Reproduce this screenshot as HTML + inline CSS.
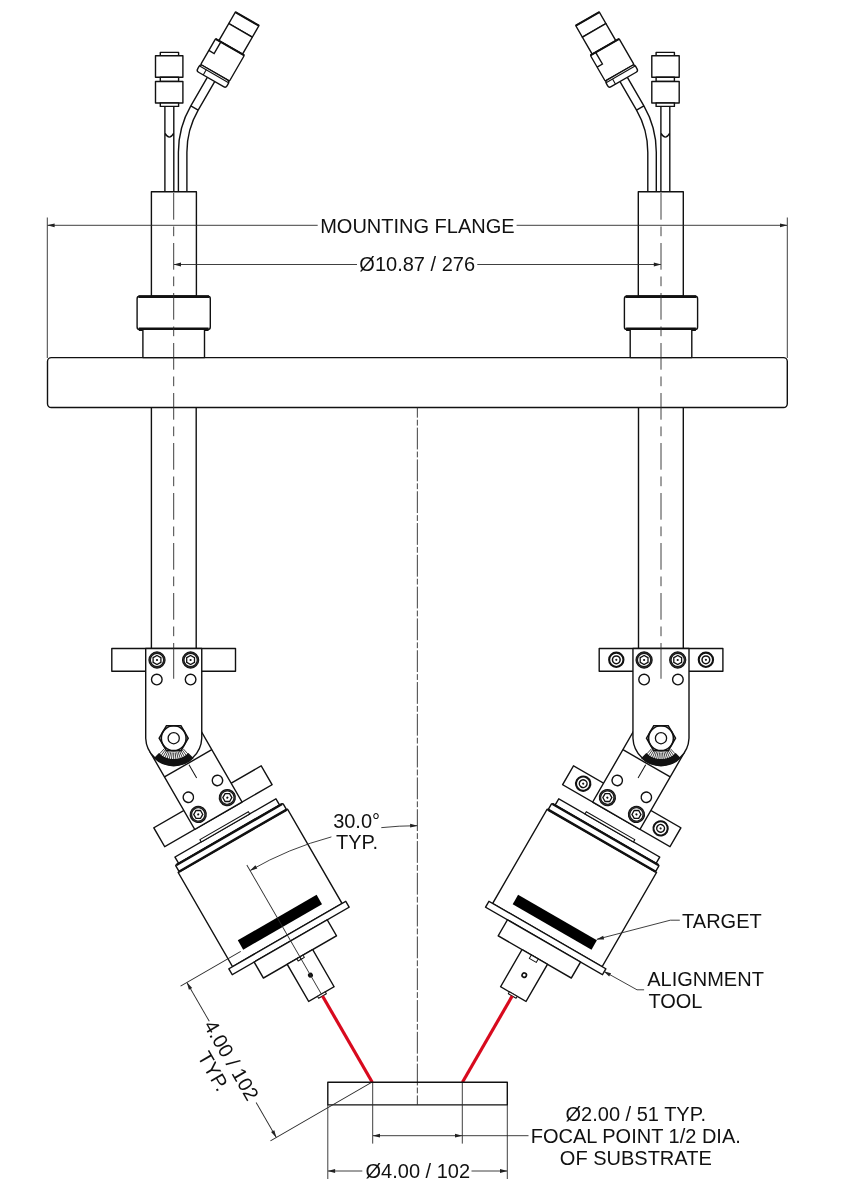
<!DOCTYPE html>
<html><head><meta charset="utf-8"><style>
html,body{margin:0;padding:0;background:#fff;}
svg{display:block;transform:translateZ(0);}
text{font-family:"Liberation Sans",sans-serif;fill:#111;}
.o{fill:#fff;stroke:#111;stroke-width:1.4;stroke-linejoin:round;}
.n{fill:none;stroke:#111;stroke-width:1.4;}
.t{fill:none;stroke:#2a2a2a;stroke-width:0.9;}
.k{fill:none;stroke:#111;stroke-width:2.6;}
.c{fill:none;stroke:#2a2a2a;stroke-width:0.9;stroke-dasharray:24 2.5 3.5 2.5;}
.a{fill:#222;stroke:none;}
.red{fill:none;stroke:#d80a1e;stroke-width:3.2;}
</style></head><body>
<svg width="842" height="1200" viewBox="0 0 842 1200">
<defs>
<marker id="ar" viewBox="-8 -3 9 6" refX="0" refY="0" markerWidth="9" markerHeight="6" markerUnits="userSpaceOnUse" orient="auto-start-reverse"><path d="M0.5,0L-7,-1.9L-7,1.9Z" fill="#222"/></marker>
<g id="scr">
  <circle r="7.35" fill="#fff" stroke="#111" stroke-width="2.6"/>
  <circle r="7.3" fill="none" stroke="#555" stroke-width="0.4"/>
  <polygon points="0,-4.5 3.9,-2.25 3.9,2.25 0,4.5 -3.9,2.25 -3.9,-2.25" fill="none" stroke="#111" stroke-width="1.3"/>
  <circle r="1.1" fill="#111"/>
</g>
<g id="scr2">
  <circle r="7.15" fill="#fff" stroke="#111" stroke-width="2.1"/>
  <circle r="3.85" fill="none" stroke="#111" stroke-width="1.5"/>
  <circle r="1.1" fill="#222"/>
</g>
<g id="L">
  <!-- small vertical connector -->
  <rect class="o" x="160.3" y="52.4" width="18.3" height="3.3"/>
  <rect class="o" x="155.5" y="55.7" width="27.4" height="21.6"/>
  <rect class="o" x="160.3" y="77.3" width="18.3" height="4.2"/>
  <rect class="o" x="155.5" y="81.5" width="27.4" height="21.5"/>
  <rect class="o" x="160.3" y="103" width="18.3" height="3.4"/>
  <path class="n" d="M164.9,106.4V191.8M173.8,106.4V191.8M164.9,133.2Q169.35,141 173.8,133.2"/>
  <!-- bent tube -->
  <path class="n" d="M207.31,77.3L190.81,105.88A92.65,92.65 0 0 0 178.4,152.2V191.8M214.67,81.55L198.17,110.12A84.15,84.15 0 0 0 186.9,152.2V191.8M190.81,105.88L198.17,110.12"/>
  <!-- angled connector -->
  <g transform="translate(247.15,18.9) rotate(30)">
    <rect class="o" x="-13.6" y="0" width="27.2" height="13.2"/>
    <line class="k" x1="-13.6" y1="0" x2="13.6" y2="0" style="stroke-width:2"/>
    <rect class="o" x="-13.6" y="13.2" width="27.2" height="19.8"/>
    <rect class="o" x="-17.4" y="33" width="33.2" height="29.7" rx="1"/>
    <line class="k" x1="-17.4" y1="33" x2="15.8" y2="33" style="stroke-width:2"/>
    <rect class="o" x="-17.9" y="62.7" width="33.9" height="7.8" rx="2.5"/>
    <path class="n" d="M-17.6,64.5H15.8" style="stroke-width:1.1"/>
  </g>
  <!-- mount body, nut, neck -->
  <rect class="o" x="151.4" y="191.8" width="45" height="104.4"/>
  <rect class="o" x="137.1" y="296.2" width="73.2" height="33.2" rx="2.5"/>
  <path class="k" d="M138.5,296.6H209" style="stroke-width:2.6"/><path class="k" d="M138.8,329.3H208.6" style="stroke-width:3.4"/>
  <rect class="o" x="142.9" y="329.4" width="61.6" height="28.2"/>
  <!-- lower tube -->
  <path class="n" d="M151.4,407.5V648.5M196.2,407.5V648.5"/>
  <!-- clamp bar -->
  <rect class="o" x="111.8" y="648.5" width="123.7" height="22.8"/>
  <!-- rotated bracket + head -->
  <g transform="translate(173.85,738.55) rotate(-30)">
    <rect class="o" x="-62" y="67.3" width="124" height="21.8"/>
    <rect class="o" x="-27.3" y="0" width="54.6" height="89.1"/>
    <line class="n" x1="-27.3" y1="28.6" x2="27.3" y2="28.6"/>
    <line class="n" x1="0" y1="30.3" x2="0" y2="45.6" style="stroke-width:1"/>
    <circle class="o" cx="-16.8" cy="58.1" r="5.2"/>
    <circle class="o" cx="16.8" cy="58.1" r="5.2"/>
    <use href="#scr" x="-16.8" y="77.9"/>
    <use href="#scr" x="16.8" y="77.9"/>
    <!-- head -->
    <rect class="o" x="-58.3" y="103.2" width="116.6" height="7.4"/>
    <rect class="o" x="-28" y="100.6" width="56" height="2.6" style="stroke-width:1.1"/>
    <rect class="o" x="-62" y="110.6" width="124" height="7.5" rx="1"/>
    <rect class="o" x="-63.2" y="118.1" width="126.4" height="108.8"/>
    <path class="k" d="M-61,110.8H61M-62.2,117.9H62.2" style="stroke-width:2.5"/>
    <rect x="-45.5" y="206.7" width="91" height="10.8" fill="#000"/>
    <rect class="o" x="-67.5" y="226.9" width="135" height="6.8"/>
    <rect class="o" x="-42.2" y="233.7" width="84.4" height="18.5"/>
    <rect class="o" x="-14.7" y="252.2" width="29.4" height="42.9"/>
    <rect class="o" x="-4.5" y="295.1" width="9" height="2.2" style="stroke-width:1"/>
    <line class="red" x1="0" y1="297.3" x2="0" y2="396.8"/>
  </g>
  <!-- arm plate -->
  <path class="o" d="M145.7,648.5V738.2A28.05,28.05 0 0 0 201.75,738.2V648.5Z"/>
  <use href="#scr" x="157" y="660"/>
  <use href="#scr" x="190.6" y="660"/>
  <circle class="o" cx="156.8" cy="679.6" r="5.3"/>
  <circle class="o" cx="190.6" cy="679.6" r="5.3"/>
  <!-- knurl arc -->
  <g transform="translate(173.7,738.2)">
        <path d="M-19.94,19.94A28.2,28.2 0 0 0 19.94,19.94L14.71,14.71A20.8,20.8 0 0 1 -14.71,14.71Z" fill="#111"/>
    <path d="M-9.57,10.63L-14.19,15.75M-8.41,11.57L-12.46,17.15M-7.15,12.38L-10.60,18.36M-5.82,13.06L-8.62,19.37M-4.42,13.60L-6.55,20.16M-2.97,13.99L-4.41,20.74M-1.49,14.22L-2.22,21.08M0.00,14.30L0.00,21.20M1.49,14.22L2.22,21.08M2.97,13.99L4.41,20.74M4.42,13.60L6.55,20.16M5.82,13.06L8.62,19.37M7.15,12.38L10.60,18.36M8.41,11.57L12.46,17.15M9.57,10.63L14.19,15.75" fill="none" stroke="#000" stroke-width="0.75"/>
    <polygon points="-14.5,0 -7.25,-12.56 7.25,-12.56 14.5,0 7.25,12.56 -7.25,12.56" fill="#fff" stroke="#111" stroke-width="1.5"/>
    <circle r="12.4" fill="none" stroke="#111" stroke-width="1.6"/>
    <circle r="5.6" fill="none" stroke="#111" stroke-width="1.3"/>
  </g>
  <!-- center line of mount -->
  <line class="t" x1="173.7" y1="193" x2="173.7" y2="643" style="stroke-dasharray:26.7 6.8 9.7 6.8"/><line class="t" x1="173.7" y1="643" x2="173.7" y2="678.75"/>
</g>
</defs>

<!-- flange -->
<rect class="o" x="47.5" y="357.6" width="739.8" height="49.9" rx="3.8"/>
<use href="#L"/>
<use href="#L" transform="translate(834.7,0) scale(-1,1)"/>
<!-- connector tabs (not mirrored) -->
<g transform="translate(247.15,18.9) rotate(30)">
  <path class="n" d="M-17.4,46.5H-11.3V33"/>
  <path class="n" d="M-10,64.5V70.5" style="stroke-width:1.1"/>
</g>
<g transform="translate(587.55,18.9) rotate(-30)">
  <path class="n" d="M-15.8,46.5H-9.7V33"/>
  <path class="n" d="M-8.4,64.5V70.5" style="stroke-width:1.1"/>
</g>
<!-- right-only extra screws -->
<use href="#scr2" x="616.3" y="659.8"/>
<use href="#scr2" x="705.9" y="659.8"/>
<g transform="translate(834.7,0) scale(-1,1) translate(173.85,738.55) rotate(-30)">
  <use href="#scr2" x="-44.7" y="77.9"/>
  <use href="#scr2" x="44.7" y="77.9"/>
  <rect class="o" x="-4" y="252.2" width="8" height="4" style="stroke-width:1"/>
  <circle cx="0" cy="273.2" r="2.2" fill="none" stroke="#111" stroke-width="1.6"/>
</g>
<!-- center line -->
<line class="t" x1="417.35" y1="407.5" x2="417.35" y2="1104.5" style="stroke-dasharray:21.8 2.1 5.8 2.1;stroke-dashoffset:11.65"/>
<!-- substrate -->
<rect class="o" x="327.8" y="1082.2" width="179.5" height="22.7" style="fill:none"/>

<!-- MOUNTING FLANGE dim -->
<path class="t" d="M47.3,217.5V358M787.3,217.5V358"/>
<path class="t" d="M317.7,225.3H47.6" marker-end="url(#ar)"/>
<path class="t" d="M516.6,225.3H787" marker-end="url(#ar)"/>
<text x="417.4" y="232.8" font-size="20" text-anchor="middle">MOUNTING FLANGE</text>
<!-- 10.87 dim -->
<path class="t" d="M357,264.5H174" marker-end="url(#ar)"/>
<path class="t" d="M477.3,264.5H660.8" marker-end="url(#ar)"/>
<text x="417.2" y="271.3" font-size="20" text-anchor="middle">Ø10.87 / 276</text>

<!-- 30 deg -->
<path class="t" d="M381.3,827.65A334.5,334.5 0 0 1 417.1,825.7" marker-end="url(#ar)"/>
<path class="t" d="M331.4,836.9A334.5,334.5 0 0 0 250.3,870.4" marker-end="url(#ar)"/>
<text x="356.6" y="828" font-size="20" text-anchor="middle">30.0°</text>
<text x="357" y="849.4" font-size="20" text-anchor="middle">TYP.</text>

<!-- 4.00 / 102 TYP (left head frame) -->
<g transform="translate(173.85,738.55) rotate(-30)">
  <rect class="o" x="-3.6" y="252.2" width="3.6" height="2.6" style="stroke-width:1"/>
  <rect class="o" x="0" y="252.2" width="3.6" height="2.6" style="stroke-width:1"/>
  <circle cx="0" cy="273.2" r="2.5" fill="#111"/>
  <line class="t" x1="0" y1="146" x2="0" y2="295.1"/>
  <path class="t" d="M-48.5,217.8H-118M-1.2,396.7H-117.5"/>
  <path class="t" d="M-110.7,262.6V218.1" marker-end="url(#ar)"/>
  <path class="t" d="M-110.7,356.3V396.4" marker-end="url(#ar)"/>
  <text transform="translate(-117.9,307.4) rotate(90)" font-size="20" text-anchor="middle">4.00 / 102</text>
  <text transform="translate(-139.05,307.9) rotate(90)" font-size="20" text-anchor="middle">TYP.</text>
</g>

<!-- substrate dims -->
<path class="t" d="M372.7,1083V1143.6M462.3,1083V1143.6M327.8,1105V1179M507.3,1105V1179"/>
<path class="t" d="M417,1135.7H373" marker-end="url(#ar)"/>
<path class="t" d="M417,1135.7H462" marker-end="url(#ar)"/>
<path class="t" d="M462,1135.7H528.5"/>
<path class="t" d="M362.3,1171H328.1" marker-end="url(#ar)"/>
<path class="t" d="M471.5,1171H507" marker-end="url(#ar)"/>
<text x="417.8" y="1177.6" font-size="20" text-anchor="middle">Ø4.00 / 102</text>
<text x="635.8" y="1121.4" font-size="20" text-anchor="middle">Ø2.00 / 51 TYP.</text>
<text x="635.8" y="1142.7" font-size="20" text-anchor="middle">FOCAL POINT 1/2 DIA.</text>
<text x="635.8" y="1164.7" font-size="20" text-anchor="middle">OF SUBSTRATE</text>

<!-- TARGET / ALIGNMENT TOOL -->
<path class="t" d="M679.8,920.2H670.3L596.9,939.3" marker-end="url(#ar)"/>
<text x="682.1" y="927.5" font-size="20">TARGET</text>
<path class="t" d="M644.1,989.8H637L604,971.4" marker-end="url(#ar)"/>
<text x="647.2" y="985.5" font-size="20">ALIGNMENT</text>
<text x="648.4" y="1008" font-size="20">TOOL</text>
</svg>
</body></html>
